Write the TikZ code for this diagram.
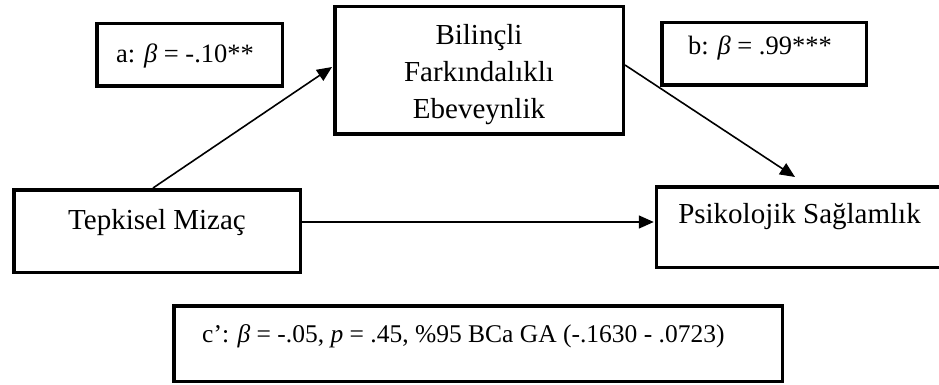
\documentclass[tikz,border=0pt]{standalone}
\usepackage{fontspec}
\setmainfont{Liberation Serif}
\usetikzlibrary{arrows.meta,calc}
\begin{document}
\begin{tikzpicture}[x=1pt,y=-1pt,
  box/.style={draw=black,line width=3.5pt,inner sep=0pt,fill=white},
  lbl/.style={inner sep=0pt,anchor=base,font=\fontsize{29}{35}\selectfont},
  coef/.style={inner sep=0pt,anchor=base,font=\fontsize{26.5}{32}\selectfont},
  conn/.style={line width=1.6pt,-{Triangle[length=15pt,width=13pt]}}]
\useasboundingbox (0,0) rectangle (939,385);
% boxes
\node[box,minimum width=185.5pt,minimum height=62.5pt] (abox) at (189.5,55) {};
\node[box,minimum width=288.5pt,minimum height=127.5pt] (med) at (479,70.5) {};
\node[box,minimum width=204.5pt,minimum height=62.5pt] (bbox) at (764,54) {};
\node[box,minimum width=286.5pt,minimum height=82.5pt] (tm) at (157,231) {};
\node[box,minimum width=300pt,minimum height=80.5pt] (ps) at (806.5,227) {};
\node[box,minimum width=608.5pt,minimum height=75.5pt] (cbox) at (478,343.5) {};
% texts
\node[coef] (at) at (185,63) {a: \textit{β} = -.10**};
\node[coef] (bt) at (760,55) {b: \textit{β} = .99***};
\node[lbl] (m1) at (479,45) {Bilinçli};
\node[lbl] (m2) at (479,82) {Farkındalıklı};
\node[lbl] (m3) at (479,118.5) {Ebeveynlik};
\node[lbl] (tmt) at (157,229) {Tepkisel Mizaç};
\node[lbl] (pst) at (799.5,223) {Psikolojik Sağlamlık};
\node[coef,anchor=base west,font=\fontsize{25.5}{31}\selectfont] (ct) at (202,342) {c’: \textit{β} = -.05, \textit{p} = .45, \%95 BCa GA (-.1630 - .0723)};
% connector end points
\coordinate (a0) at ($(tm.north west)+(141,0)$);
\coordinate (a1) at ($(med.north west)+(-1,62)$);
\coordinate (b0) at ($(med.north east)+(0,60)$);
\coordinate (b1) at (795,177);
\coordinate (c0) at ($(tm.north east)+(0,34)$);
\coordinate (c1) at ($(ps.north west)+(-1,37)$);
\draw[conn] (a0) -- (a1);
\draw[conn] (b0) -- (b1);
\draw[conn] (c0) -- (c1);
\end{tikzpicture}
\end{document}
